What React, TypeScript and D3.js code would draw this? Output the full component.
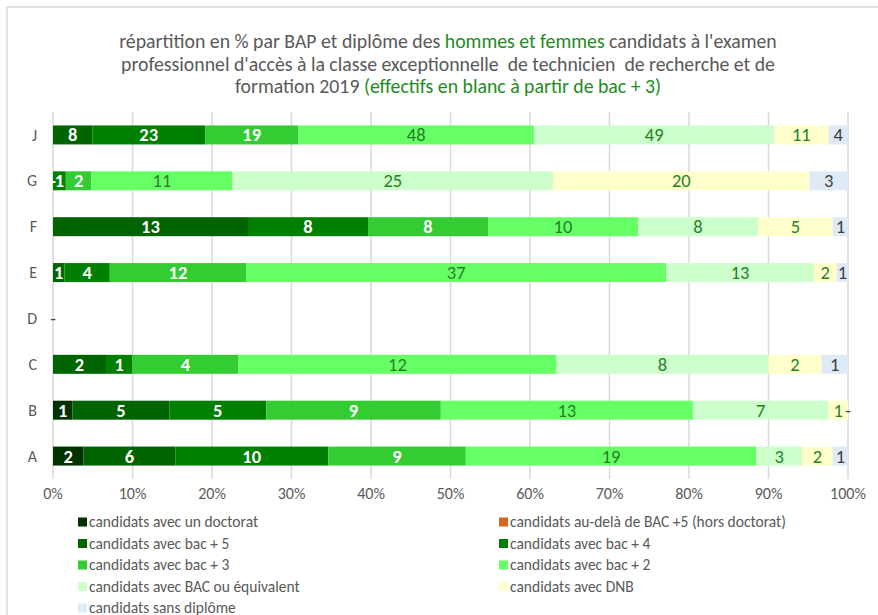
import React from "react";
import * as d3 from "d3";

const categories = ["J", "G", "F", "E", "D", "C", "B", "A"];
const seriesNames = [
  "candidats avec un doctorat",
  "candidats au-delà de BAC +5 (hors doctorat)",
  "candidats avec bac + 5",
  "candidats avec bac + 4",
  "candidats avec bac + 3",
  "candidats avec bac + 2",
  "candidats avec BAC ou équivalent",
  "candidats avec DNB",
  "candidats sans diplôme",
];
const seriesColors = ["#003300", "#D2691E", "#006400", "#008000", "#33CC33", "#66FF66", "#CCFFCC", "#FFFFCC", "#DEEBF7"];
const labelColors = ["#FFFFFF", "#FFFFFF", "#FFFFFF", "#FFFFFF", "#FFFFFF", "#267F26", "#267F26", "#267F26", "#404040"];

// counts per category (J, G, F, E, D, C, B, A); null = no value
const doctorat = [null, null, null, null, null, null, 1, 2];
const auDela = [null, null, null, null, null, null, null, null];
const bac5 = [8, 0, 13, 1, null, 2, 5, 6];
const bac4 = [23, 1, 8, 4, null, 1, 5, 10];
const bac3 = [19, 2, 8, 12, null, 4, 9, 9];
const bac2 = [48, 11, 10, 37, null, 12, 13, 19];
const bacEq = [49, 25, 8, 13, null, 8, 7, 3];
const dnb = [11, 20, 5, 2, null, 2, 1, 2];
const sans = [4, 3, 1, 1, 0, 1, 0, 1];

const xTicks = [0, 0.1, 0.2, 0.3, 0.4, 0.5, 0.6, 0.7, 0.8, 0.9, 1];

const allSeries = [doctorat, auDela, bac5, bac4, bac3, bac2, bacEq, dnb, sans];

const FONT = "Carlito, 'Liberation Sans Narrow', 'DejaVu Sans Condensed', 'Open Sans', sans-serif";
const GRAY = "#595959";
const GREEN_T = "#1E8C1E";

export default function App() {
  const W = 878, H = 615;
  const x = d3.scaleLinear().domain([0, 1]).range([53, 848]);
  const y = d3.scaleBand().domain(categories).range([112, 479]).paddingInner(0.586).paddingOuter(0.293);

  const keys = seriesNames.map((_, i) => "s" + i);
  const table = categories.map((c, ci) => {
    const row: any = { cat: c };
    allSeries.forEach((s, si) => (row["s" + si] = s[ci] ?? 0));
    return row;
  });
  const stacked = d3.stack<any>().keys(keys).offset(d3.stackOffsetExpand)(table);

  const TX = 448;
  return (
    <svg width={W} height={H} style={{ position: "absolute", left: 0, top: 0, background: "#fff" }} fontFamily={FONT}>
      <rect x={7} y={7} width={W + 20} height={H + 20} fill="#fff" stroke="#D9D9D9" strokeWidth={1.5} />
      <text x={TX} textAnchor="middle" fontSize={19.8} fill={GRAY} style={{ whiteSpace: "pre" }}>
        <tspan x={TX} y={48}>
          {"répartition en % par BAP et diplôme des "}<tspan fill={GREEN_T}>hommes et femmes</tspan>{" candidats à l'examen"}
        </tspan>
        <tspan x={TX} y={70.5}>
          {"professionnel d'accès à la classe exceptionnelle  de technicien  de recherche et de"}
        </tspan>
        <tspan x={TX} y={93}>
          {"formation 2019 "}<tspan fill={GREEN_T}>(effectifs en blanc à partir de bac + 3)</tspan>
        </tspan>
      </text>
      {xTicks.map((t) => (
        <g key={t}>
          <line x1={x(t)} x2={x(t)} y1={112} y2={479} stroke="#D9D9D9" strokeWidth={1.5} />
          <text x={x(t)} y={499} textAnchor="middle" fontSize={16} fill={GRAY}>
            {d3.format(".0%")(t)}
          </text>
        </g>
      ))}
      {categories.map((c) => (
        <text key={c} x={37} y={(y(c) as number) + y.bandwidth() / 2} dy="0.35em" textAnchor="end" fontSize={16} fill={GRAY}>
          {c}
        </text>
      ))}
      {stacked.map((layer, si) => (
        <g key={si}>
          {layer.map((d, ci) => {
            const v = allSeries[si][ci];
            if (v === null || v === undefined) return null;
            const x0 = x(d[0]), x1 = x(d[1]);
            return <rect key={ci} x={x0} y={y(categories[ci])} width={Math.max(0, x1 - x0)} height={y.bandwidth()} fill={seriesColors[si]} />;
          })}
        </g>
      ))}
      {stacked.map((layer, si) => (
        <g key={"l" + si}>
          {layer.map((d, ci) => {
            const v = allSeries[si][ci];
            if (v === null || v === undefined) return null;
            const cx = (x(d[0]) + x(d[1])) / 2;
            const white = labelColors[si] === "#FFFFFF";
            return (
              <text key={ci} x={cx} y={(y(categories[ci]) as number) + y.bandwidth() / 2} dy="0.35em" textAnchor="middle"
                fontSize={18.5} fontWeight={white ? "bold" : "normal"} fill={labelColors[si]}>
                {v === 0 ? "-" : v}
              </text>
            );
          })}
        </g>
      ))}
      {seriesNames.map((name, i) => {
        const col = i % 2;
        const row = Math.floor(i / 2);
        const lx = col === 0 ? 78 : 499;
        const ly = 522 + row * 21.5;
        return (
          <g key={name}>
            <rect x={lx} y={ly - 4.5} width={9} height={9} fill={seriesColors[i]} />
            <text x={lx + 11} y={ly} dy="0.35em" fontSize={15.5} fill={GRAY}>
              {name}
            </text>
          </g>
        );
      })}
    </svg>
  );
}
